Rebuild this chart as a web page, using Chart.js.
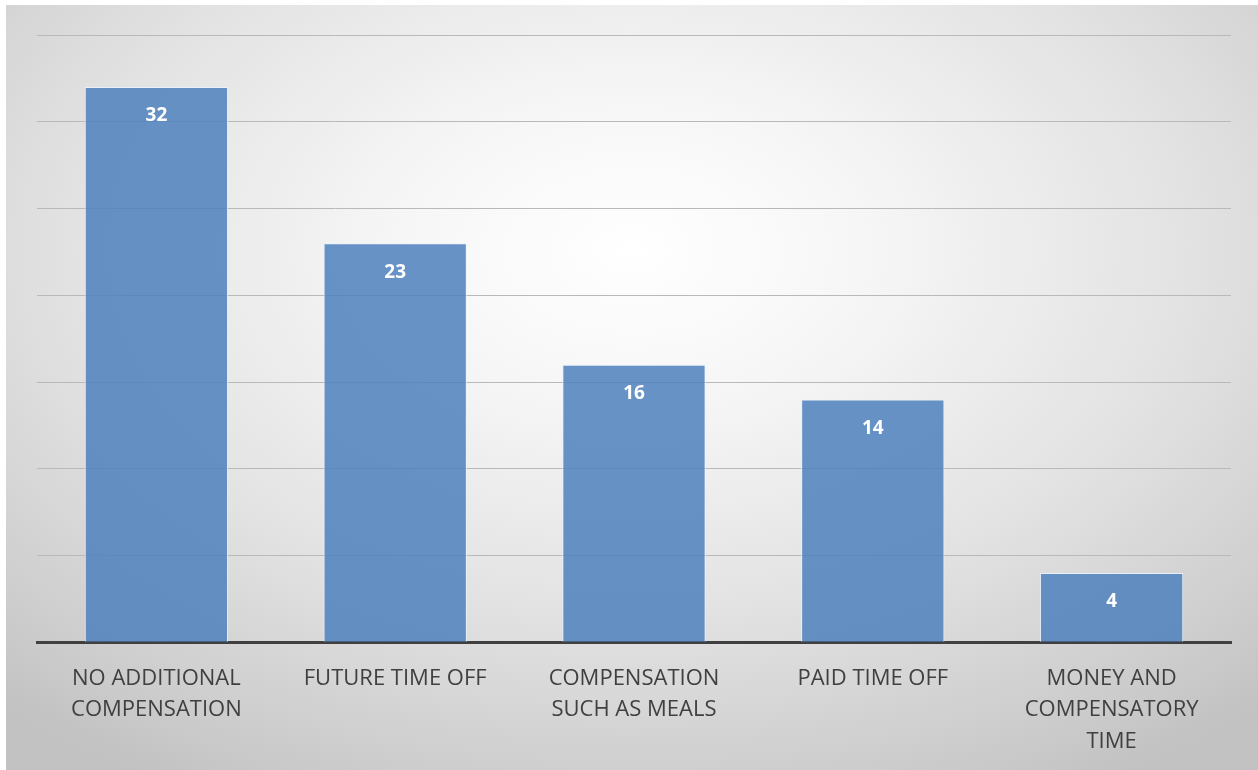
<!DOCTYPE html>
<html>
<head>
<meta charset="utf-8">
<script src="https://cdn.jsdelivr.net/npm/chart.js@4/dist/chart.umd.min.js"></script>
<style>
  html, body { margin: 0; padding: 0; background: #fff; }
  #frame {
    position: absolute; left: 6px; top: 5px; width: 1252px; height: 765px;
    background: radial-gradient(ellipse 75% 80% at 50% 32%, #ffffff 0%, #f6f6f6 25%, #e2e2e2 60%, #cbcbcb 90%, #c2c2c2 100%);
  }
  #frame canvas { display: block; }
</style>
</head>
<body>
<div id="frame"><canvas id="chart" width="1252" height="765"></canvas></div>
<script>
// DATA
var categories = [
  ["NO ADDITIONAL", "COMPENSATION"],
  ["FUTURE TIME OFF"],
  ["COMPENSATION", "SUCH AS MEALS"],
  ["PAID TIME OFF"],
  ["MONEY AND", "COMPENSATORY", "TIME"]
];
var counts = [32, 23, 16, 14, 4];
var yMax = 35;
var yStep = 5;

// value labels inside the top of each bar
var barLabels = {
  id: "barLabels",
  afterDatasetsDraw: function (chart) {
    var ctx = chart.ctx;
    var meta = chart.getDatasetMeta(0);
    ctx.save();
    ctx.fillStyle = "#ffffff";
    ctx.font = "bold 19px 'Open Sans', sans-serif";
    ctx.textAlign = "center";
    ctx.textBaseline = "middle";
    for (var i = 0; i < meta.data.length; i++) {
      var bar = meta.data[i];
      ctx.fillText(String(counts[i]), bar.x, bar.y + 29);
    }
    ctx.restore();
  }
};

new Chart(document.getElementById("chart"), {
  type: "bar",
  data: {
    labels: categories,
    datasets: [{
      data: counts,
      backgroundColor: "rgba(79,129,189,0.86)",
      borderColor: "rgba(235,242,250,0.9)",
      borderWidth: 1,
      barPercentage: 0.6,
      categoryPercentage: 1
    }]
  },
  options: {
    responsive: false,
    animation: false,
    layout: { padding: { left: 31, right: 27, top: 30, bottom: 0 } },
    plugins: { legend: { display: false }, tooltip: { enabled: false } },
    scales: {
      x: {
        grid: { display: false },
        border: { display: true, color: "#404040", width: 3 },
        ticks: {
          color: "#404040",
          font: { family: "'Open Sans', sans-serif", size: 22, lineHeight: 1.45 },
          padding: 12,
          maxRotation: 0,
          autoSkip: false
        }
      },
      y: {
        min: 0,
        max: yMax,
        ticks: { display: false, stepSize: yStep },
        grid: { color: "#b9b9b9", lineWidth: 1, drawTicks: false },
        border: { display: false }
      }
    }
  },
  plugins: [barLabels]
});
</script>
</body>
</html>
